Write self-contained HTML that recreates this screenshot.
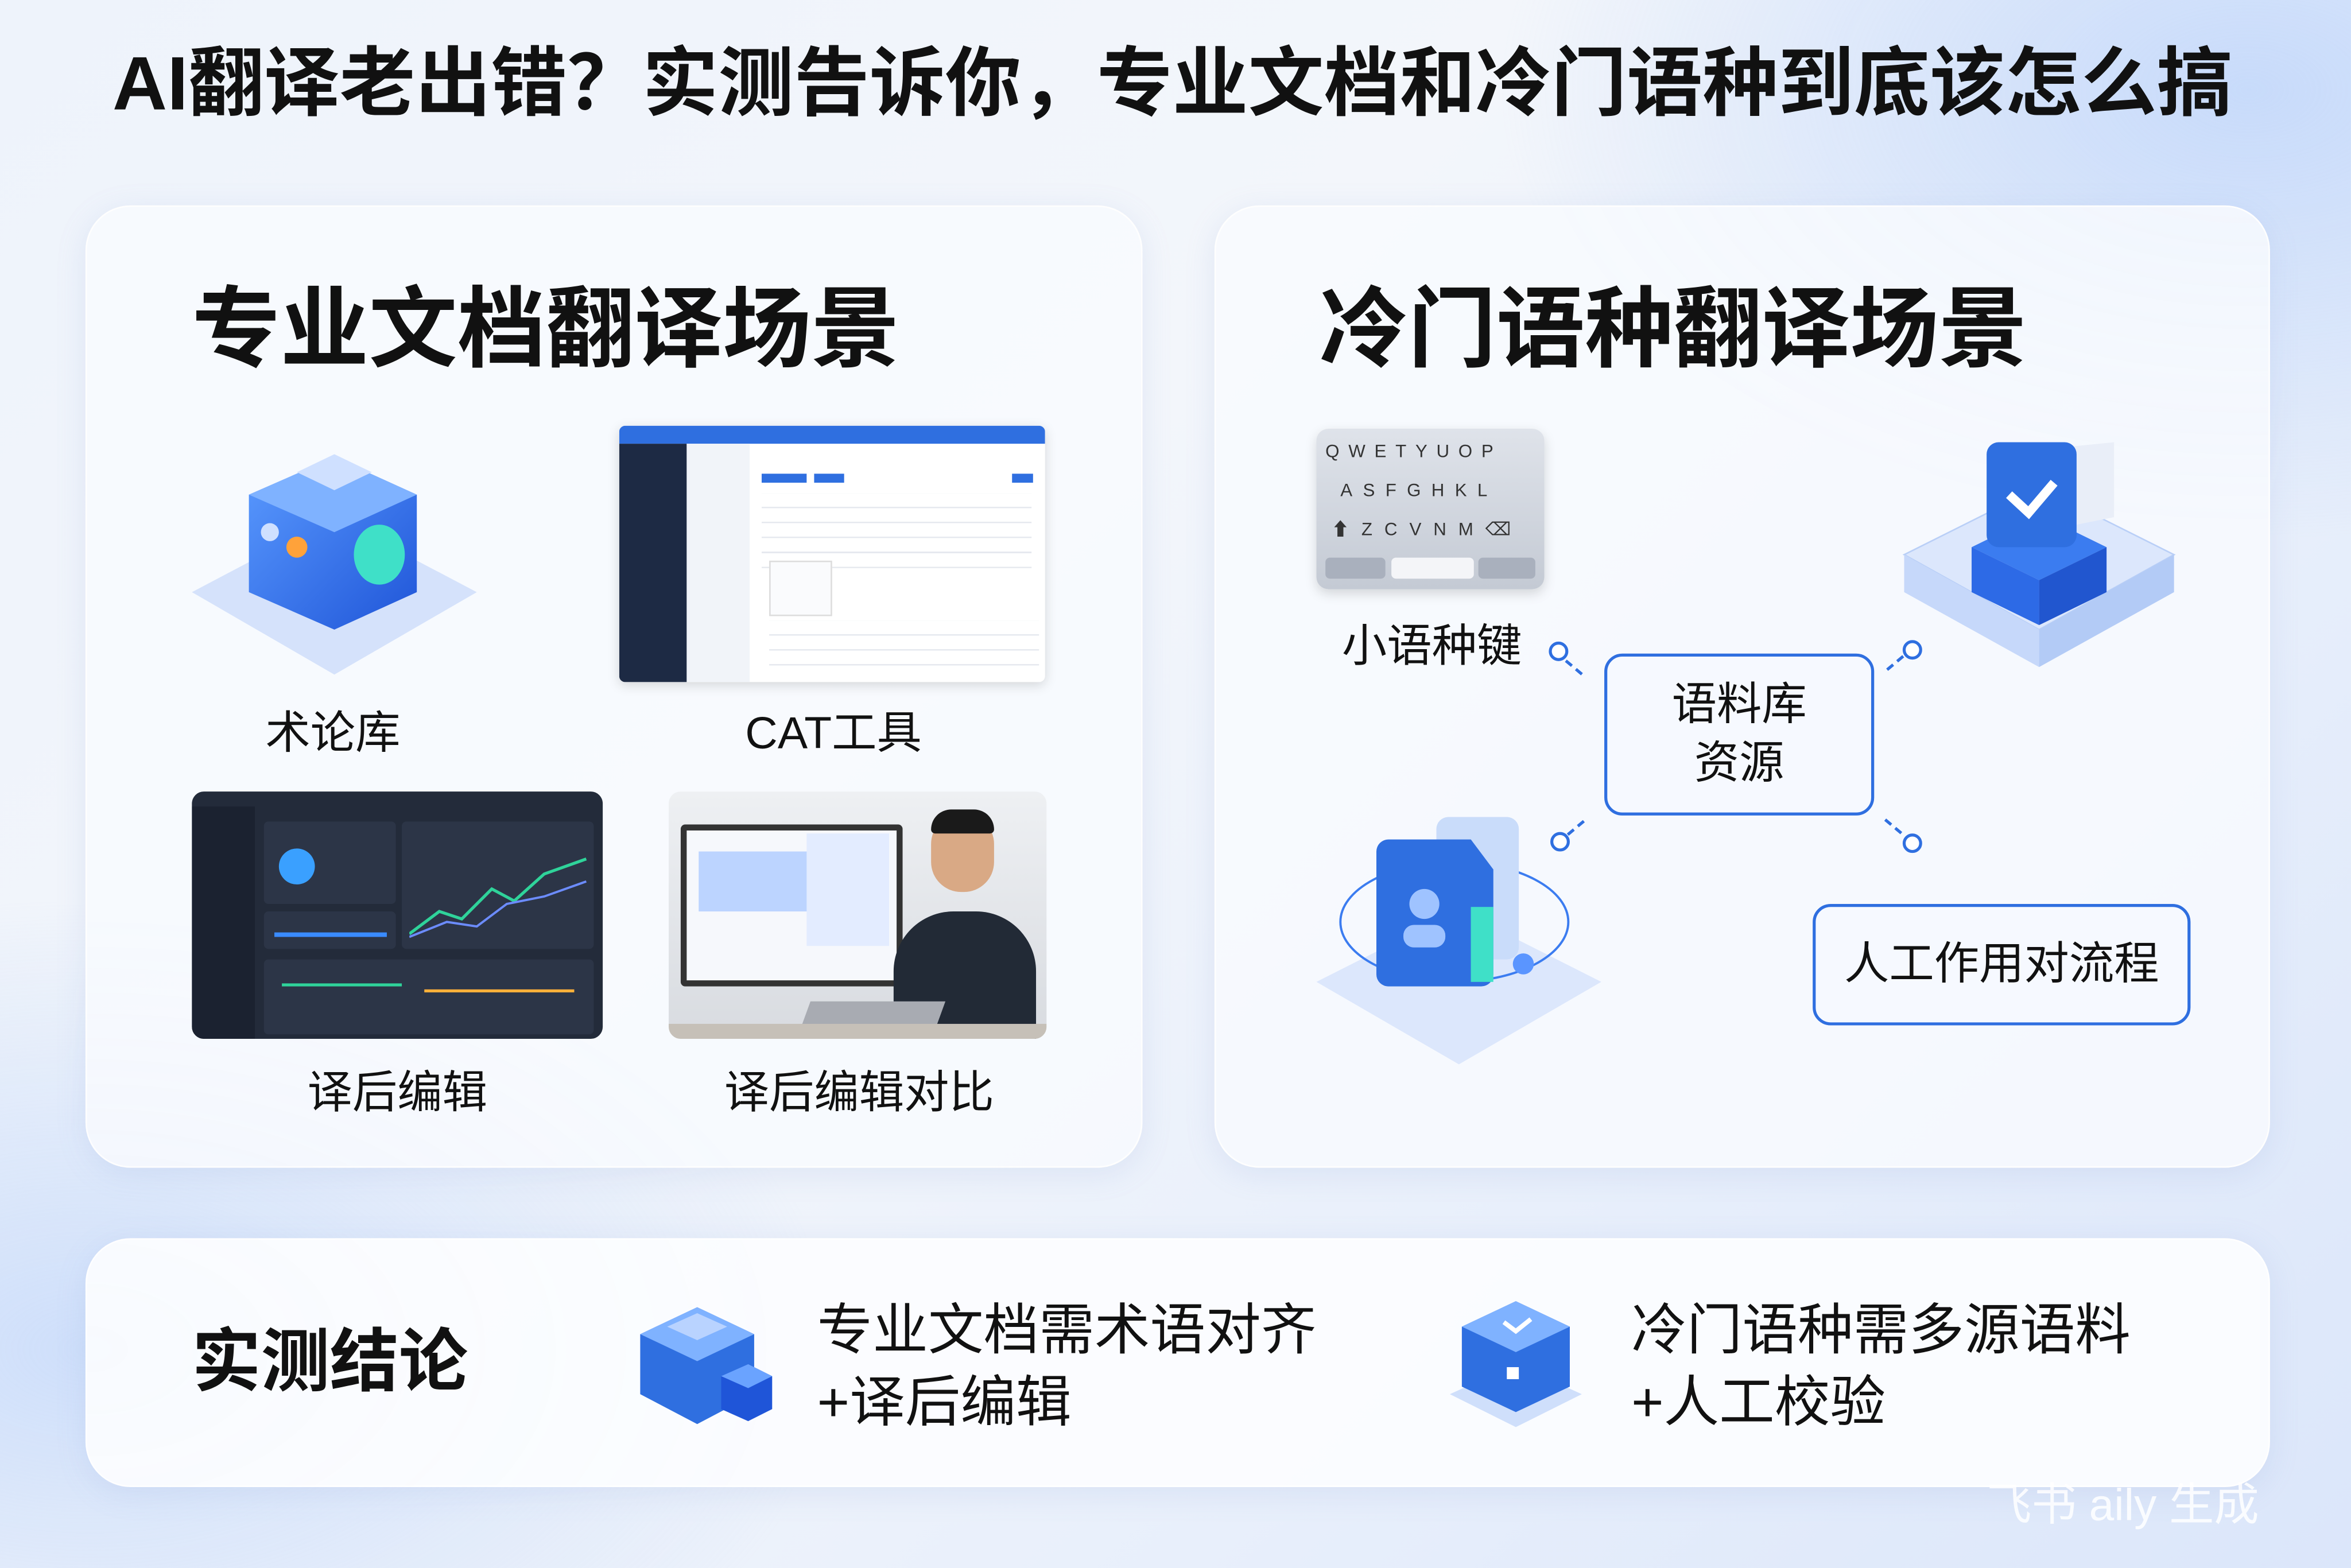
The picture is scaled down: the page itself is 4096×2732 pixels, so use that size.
<!DOCTYPE html>
<html><head><meta charset="utf-8"><style>
html,body{margin:0;padding:0;width:4096px;height:2732px;overflow:hidden}
body{background:linear-gradient(135deg,#eef3fb 0%,#f3f6fb 40%,#e8effb 70%,#dbe6fa 100%)}
#w{position:absolute;left:0;top:0;width:1568px;height:1046px;transform:scale(2.6122,2.6119);transform-origin:0 0;font-family:"Liberation Sans","Noto Sans CJK SC",sans-serif;color:#111;
background:radial-gradient(ellipse 500px 300px at 1500px 60px,rgba(170,200,250,.55),transparent),radial-gradient(ellipse 500px 300px at 60px 900px,rgba(170,200,250,.5),transparent)}
.a{position:absolute}
.panel{position:absolute;background:rgba(248,250,254,.85);border-radius:30px;box-shadow:0 4px 20px rgba(120,150,210,.15);border:1px solid rgba(255,255,255,.9)}
.t{position:absolute;white-space:nowrap;line-height:1}
.box{position:absolute;border:2.5px solid #2f6fe0;border-radius:12px;background:#f6f9ff;display:flex;align-items:center;justify-content:center;text-align:center;font-size:30px;line-height:1.3;color:#111}
.dot{position:absolute;width:9px;height:9px;border:2px solid #2f6fe0;border-radius:50%;background:#fff}
.ln{position:absolute;height:0;border-top:2px dashed #2f6fe0;transform-origin:0 0}
</style></head><body><div id="w">
<div class="t" style="left:75px;top:31px;font-size:50.5px;font-weight:bold">AI翻译老出错？实测告诉你，专业文档和冷门语种到底该怎么搞</div>

<div class="panel" style="left:57px;top:137px;width:703px;height:640px"></div>
<div class="panel" style="left:810px;top:137px;width:702px;height:640px"></div>
<div class="panel" style="left:57px;top:826px;width:1455px;height:164px;background:rgba(252,253,255,.92)"></div>

<div class="t" style="left:128px;top:191px;font-size:59px;font-weight:bold">专业文档翻译场景</div>
<div class="t" style="left:880px;top:191px;font-size:59px;font-weight:bold">冷门语种翻译场景</div>

<svg class="a" style="left:128px;top:285px" width="190" height="170" viewBox="0 0 190 170">
<defs><linearGradient id="g1" x1="0" y1="0" x2="1" y2="1"><stop offset="0" stop-color="#5b9bff"/><stop offset="1" stop-color="#1f55d8"/></linearGradient></defs>
<polygon points="0,110 95,60 190,110 95,165" fill="#d5e2fb"/>
<polygon points="95,20 150,45 150,110 95,135 38,110 38,45" fill="url(#g1)"/>
<polygon points="38,45 95,20 150,45 95,70" fill="#7fb2ff"/>
<circle cx="52" cy="70" r="6" fill="#cfe0ff"/><circle cx="70" cy="80" r="7" fill="#ffa23a"/>
<ellipse cx="125" cy="85" rx="17" ry="20" fill="#3fe0c8"/>
<polygon points="70,30 95,18 120,30 95,42" fill="#cfe0ff"/>
</svg>
<div class="t" style="left:177px;top:475px;font-size:30px">术论库</div>

<div class="a" style="left:413px;top:284px;width:284px;height:171px;background:#fff;border-radius:4px;overflow:hidden;box-shadow:0 2px 8px rgba(0,0,0,.15)">
<div class="a" style="left:0;top:0;width:284px;height:12px;background:#2f6fe0"></div>
<div class="a" style="left:0;top:12px;width:45px;height:159px;background:#1d2a44"></div>
<div class="a" style="left:45px;top:12px;width:42px;height:159px;background:#f1f4f9"></div>
<div class="a" style="left:95px;top:32px;width:30px;height:6px;background:#2f6fe0"></div>
<div class="a" style="left:130px;top:32px;width:20px;height:6px;background:#2f6fe0"></div>
<div class="a" style="left:262px;top:32px;width:14px;height:6px;background:#2f6fe0"></div>
<div class="a" style="left:95px;top:45px;width:180px;height:50px;background:repeating-linear-gradient(#fff 0 9px,#e6e9ef 9px 10px)"></div>
<div class="a" style="left:100px;top:90px;width:40px;height:35px;border:1px solid #ddd;background:#fafbfd"></div>
<div class="a" style="left:100px;top:130px;width:180px;height:35px;background:repeating-linear-gradient(#fff 0 9px,#e6e9ef 9px 10px)"></div>
</div>
<div class="t" style="left:497px;top:475px;font-size:30px">CAT工具</div>

<div class="a" style="left:128px;top:528px;width:274px;height:165px;background:#232b3a;border-radius:8px;overflow:hidden">
<div class="a" style="left:0;top:10px;width:42px;height:155px;background:#1b2230"></div>
<div class="a" style="left:48px;top:20px;width:88px;height:55px;background:#2c3547;border-radius:3px"></div>
<div class="a" style="left:58px;top:38px;width:24px;height:24px;border-radius:50%;background:#3aa0ff"></div>
<div class="a" style="left:140px;top:20px;width:128px;height:85px;background:#2c3547;border-radius:3px"></div>
<svg class="a" style="left:145px;top:35px" width="120" height="65"><polyline points="0,60 20,45 35,50 55,30 70,38 90,20 118,10" fill="none" stroke="#2fd39a" stroke-width="2"/><polyline points="0,62 25,52 45,55 65,40 90,35 118,25" fill="none" stroke="#6c8cff" stroke-width="1.5"/></svg>
<div class="a" style="left:48px;top:80px;width:88px;height:25px;background:#2c3547;border-radius:3px"></div>
<div class="a" style="left:55px;top:94px;width:75px;height:3px;background:#3a8bff"></div>
<div class="a" style="left:48px;top:112px;width:220px;height:50px;background:#2c3547;border-radius:3px"></div>
<div class="a" style="left:60px;top:128px;width:80px;height:2px;background:#2fd39a"></div>
<div class="a" style="left:155px;top:132px;width:100px;height:2px;background:#ffb03a"></div>
</div>
<div class="t" style="left:205px;top:715px;font-size:30px">译后编辑</div>

<div class="a" style="left:446px;top:528px;width:252px;height:165px;background:linear-gradient(#eef0f3,#d8dbe0);border-radius:8px;overflow:hidden">
<div class="a" style="left:8px;top:22px;width:140px;height:100px;background:#f6f8fc;border:4px solid #333;border-radius:3px"></div>
<div class="a" style="left:20px;top:40px;width:80px;height:40px;background:#bcd4ff"></div>
<div class="a" style="left:92px;top:28px;width:55px;height:75px;background:#e3ecff"></div>
<div class="a" style="left:150px;top:80px;width:95px;height:90px;background:#222a36;border-radius:40px 40px 0 0"></div>
<div class="a" style="left:175px;top:15px;width:42px;height:52px;background:#d9a985;border-radius:20px"></div>
<div class="a" style="left:175px;top:12px;width:42px;height:16px;background:#1a1a1a;border-radius:20px 20px 4px 4px"></div>
<div class="a" style="left:90px;top:140px;width:90px;height:25px;background:#a8abb2;transform:skewX(-20deg)"></div>
<div class="a" style="left:0;top:155px;width:252px;height:10px;background:#c6c0b8"></div>
</div>
<div class="t" style="left:483px;top:715px;font-size:30px">译后编辑对比</div>

<div class="a" style="left:878px;top:286px;width:152px;height:107px;background:linear-gradient(#dfe3ea,#c4cad4);border-radius:8px;box-shadow:0 3px 8px rgba(0,0,0,.15)">
<div class="t" style="left:6px;top:9px;font-size:12px;letter-spacing:6px;color:#333">QWETYUOP</div>
<div class="t" style="left:16px;top:35px;font-size:12px;letter-spacing:7px;color:#333">ASFGHKL</div>
<div class="t" style="left:10px;top:61px;font-size:12px;letter-spacing:8px;color:#333">⬆ZCVNM⌫</div>
<div class="a" style="left:50px;top:86px;width:55px;height:14px;background:#f4f5f8;border-radius:3px"></div>
<div class="a" style="left:6px;top:86px;width:40px;height:14px;background:#a9b0bd;border-radius:3px"></div>
<div class="a" style="left:108px;top:86px;width:38px;height:14px;background:#a9b0bd;border-radius:3px"></div>
</div>
<div class="t" style="left:895px;top:417px;font-size:30px">小语种键</div>

<svg class="a" style="left:1265px;top:275px" width="190" height="178" viewBox="0 0 190 178">
<polygon points="5,95 95,50 185,95 95,145" fill="#dce7fc" stroke="#b9cff7"/>
<polygon points="5,95 95,145 95,170 5,120" fill="#c6d8fa"/><polygon points="185,95 95,145 95,170 185,120" fill="#b3cbf6"/>
<polygon points="50,90 95,68 140,90 95,112" fill="#3b7cf0"/>
<polygon points="95,112 140,90 140,120 95,142" fill="#2156cf"/><polygon points="95,112 50,90 50,120 95,142" fill="#2d6ae6"/>
<polygon points="95,25 145,20 145,70 95,80" fill="#e9eef8"/>
<rect x="60" y="20" width="60" height="70" rx="8" fill="#2f6fe0"/>
<polyline points="75,55 88,67 105,47" fill="none" stroke="#fff" stroke-width="6"/>
</svg>

<svg class="a" style="left:878px;top:545px" width="190" height="170" viewBox="0 0 190 170">
<polygon points="0,110 95,62 190,110 95,165" fill="#dce7fc"/>
<ellipse cx="92" cy="70" rx="76" ry="40" fill="none" stroke="#3b7cf0" stroke-width="1.5"/>
<rect x="80" y="0" width="55" height="95" rx="8" fill="#c9dcfa"/>
<path d="M48 15 h55 l15 20 v70 a8 8 0 0 1 -8 8 h-62 a8 8 0 0 1 -8 -8 v-82 a8 8 0 0 1 8 -8z" fill="#2f6fe0"/>
<rect x="103" y="60" width="15" height="50" fill="#3fe0c8"/>
<circle cx="72" cy="58" r="10" fill="#9fc3ff"/><rect x="58" y="72" width="28" height="15" rx="7" fill="#9fc3ff"/>
<circle cx="138" cy="98" r="7" fill="#5a95ff"/>
</svg>

<div class="box" style="left:1070px;top:436px;width:176px;height:104px">语料库<br>资源</div>
<div class="box" style="left:1209px;top:603px;width:248px;height:77px">人工作用对流程</div>
<div class="dot" style="left:1033px;top:428px"></div><div class="ln" style="left:1045px;top:440px;width:14px;transform:rotate(40deg)"></div>
<div class="dot" style="left:1269px;top:427px"></div><div class="ln" style="left:1258px;top:446px;width:14px;transform:rotate(-40deg)"></div>
<div class="dot" style="left:1034px;top:555px"></div><div class="ln" style="left:1045px;top:556px;width:14px;transform:rotate(-40deg)"></div>
<div class="dot" style="left:1269px;top:556px"></div><div class="ln" style="left:1258px;top:546px;width:14px;transform:rotate(40deg)"></div>

<div class="t" style="left:128px;top:885px;font-size:46px;font-weight:bold">实测结论</div>
<svg class="a" style="left:425px;top:860px" width="92" height="96" viewBox="0 0 92 96">
<polygon points="2,30 40,12 78,30 78,70 40,90 2,70" fill="#2f6fe0"/><polygon points="2,30 40,12 78,30 40,48" fill="#7fb2ff"/>
<polygon points="20,25 40,16 60,25 40,34" fill="#b9d3ff"/>
<polygon points="56,58 74,50 90,58 90,80 74,88 56,80" fill="#1f55d8"/><polygon points="56,58 74,50 90,58 74,66" fill="#6aa3ff"/>
</svg>
<div class="t" style="left:545px;top:864px;font-size:37px;line-height:48px">专业文档需术语对齐<br>+译后编辑</div>
<svg class="a" style="left:965px;top:860px" width="92" height="96" viewBox="0 0 92 96">
<polygon points="2,70 46,50 90,70 46,92" fill="#cfdffb"/>
<polygon points="10,25 46,8 82,25 82,65 46,82 10,65" fill="#2f6fe0"/><polygon points="10,25 46,8 82,25 46,42" fill="#7fb2ff"/>
<polyline points="38,22 46,28 56,20" fill="none" stroke="#fff" stroke-width="3"/>
<rect x="40" y="52" width="8" height="8" fill="#fff"/>
</svg>
<div class="t" style="left:1088px;top:864px;font-size:37px;line-height:48px">冷门语种需多源语料<br>+人工校验</div>
<div class="t" style="left:1325px;top:990px;font-size:30px;color:rgba(255,255,255,.85)">飞书 aily 生成</div>
</div></body></html>
